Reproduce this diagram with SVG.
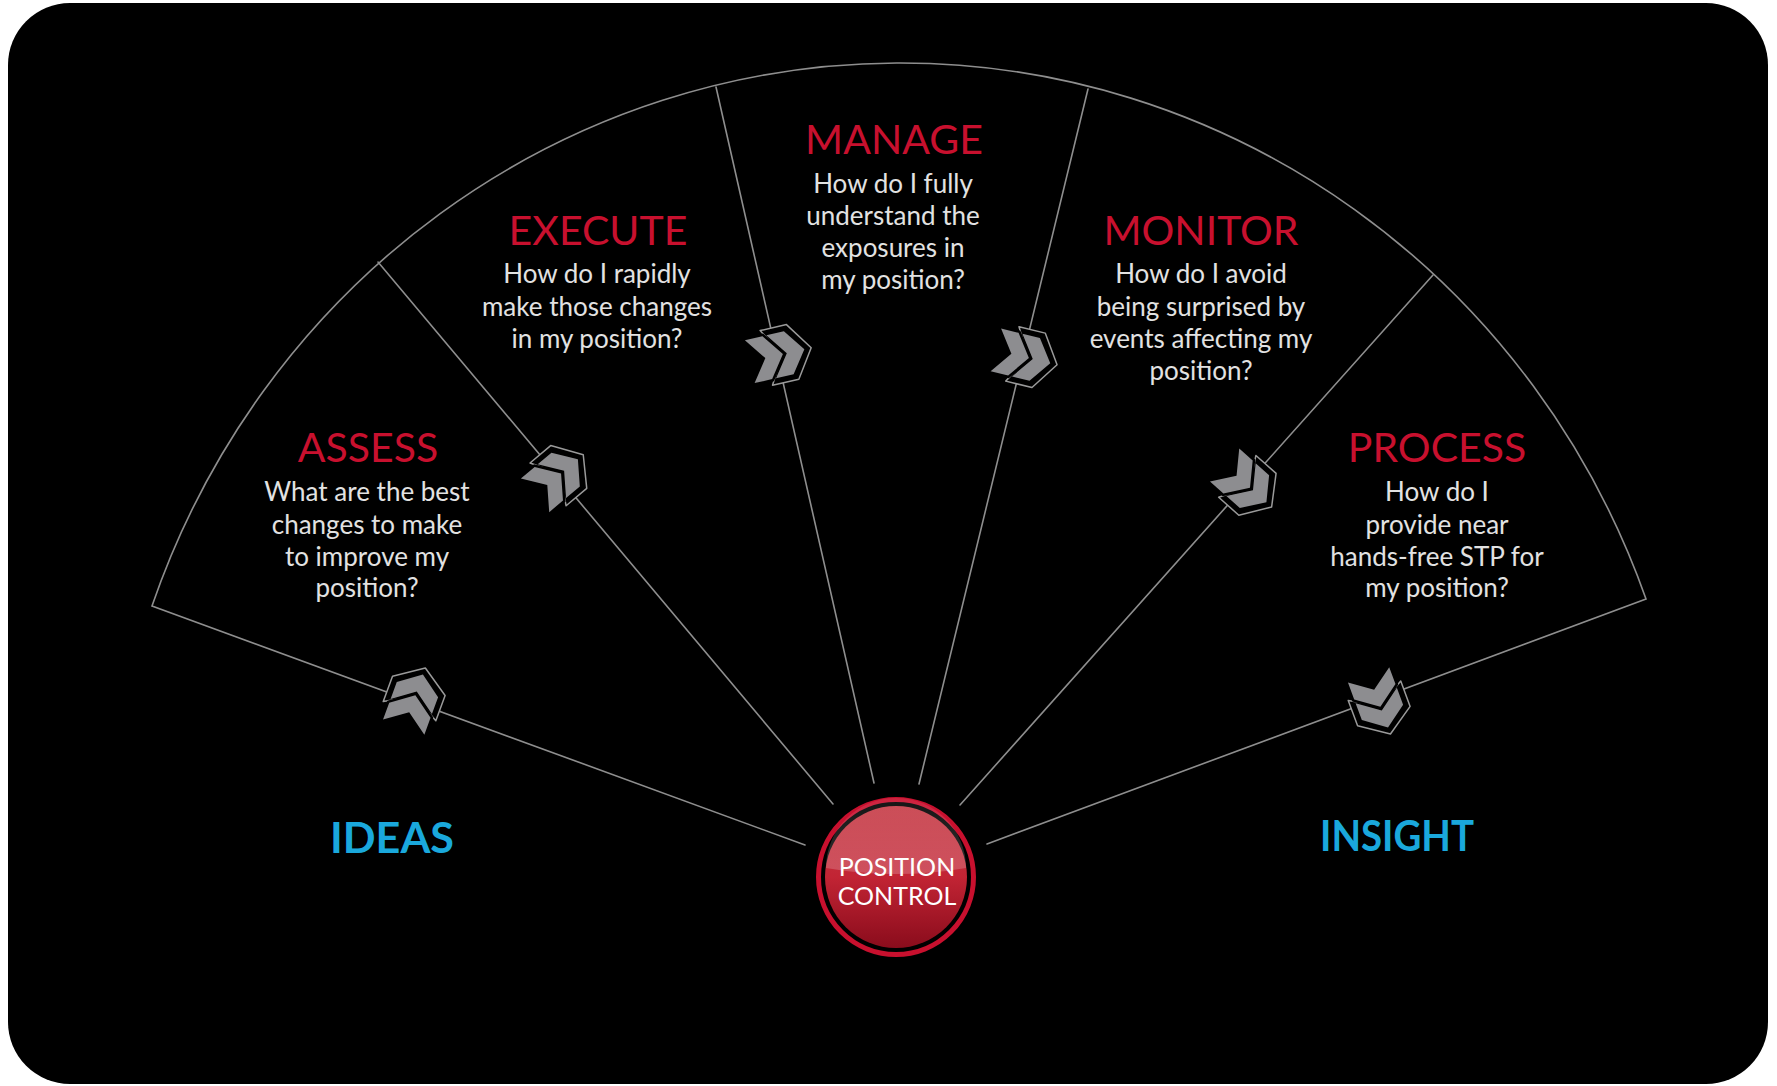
<svg xmlns="http://www.w3.org/2000/svg" width="1777" height="1086" viewBox="0 0 1777 1086">
<style>
.spoke{stroke:#8e8e8e;stroke-width:1.6;fill:none;stroke-linecap:round}
.title{font-family:Lato,"Open Sans",sans-serif;font-size:41px;fill:#c8102e;text-anchor:middle}
.body{font-family:Lato,"Open Sans",sans-serif;font-size:26px;fill:#e2e2e2;text-anchor:middle}
.side{font-family:Lato,"Open Sans",sans-serif;font-size:42px;font-weight:bold;fill:#1aa8dc;text-anchor:middle}
.pc{font-family:Lato,"Open Sans",sans-serif;font-size:25px;fill:#ffffff;text-anchor:middle}
</style>
<defs>
<linearGradient id="ball" x1="0" y1="0" x2="0" y2="1">
<stop offset="0" stop-color="#c63c47"/>
<stop offset="0.5" stop-color="#c22434"/>
<stop offset="1" stop-color="#8a0c1c"/>
</linearGradient>
<linearGradient id="gloss" x1="0" y1="0" x2="0" y2="1">
<stop offset="0" stop-color="#ffffff" stop-opacity="0.08"/>
<stop offset="1" stop-color="#ffffff" stop-opacity="0.2"/>
</linearGradient>
<g id="chev">
<polygon points="-13,-28 14,-28 33,0 14,28 -13,28 3,0" fill="#000" stroke="#9a9a9a" stroke-width="1.5" stroke-linejoin="round"/>
<polygon points="-8,-22 10,-22 26,0 10,22 -8,22 8,0" fill="#8d8d90"/>
<polygon points="-30,-22 -12,-22 4,0 -12,22 -30,22 -14,0" fill="#8d8d90" stroke="#000" stroke-width="5" paint-order="stroke"/>
</g>
</defs>
<rect x="0" y="0" width="1777" height="1086" fill="#ffffff"/>
<rect x="8" y="3" width="1760" height="1081" rx="62" ry="62" fill="#000000"/>
<g id="connectors">
<path class="spoke" d="M805,845 L152,606 A793 812 0 0 1 1646,599 L987,844"/>
<line class="spoke" x1="378" y1="262" x2="833" y2="804"/>
<line class="spoke" x1="716" y1="87" x2="874" y2="783"/>
<line class="spoke" x1="1088" y1="89" x2="919" y2="784"/>
<line class="spoke" x1="1433" y1="275" x2="960" y2="805"/>
<use href="#chev" transform="translate(414,699) rotate(-69.9)"/>
<use href="#chev" transform="translate(558,476) rotate(-40.1)"/>
<use href="#chev" transform="translate(779,355) rotate(-12.8)"/>
<use href="#chev" transform="translate(1025,357) rotate(13.7)"/>
<use href="#chev" transform="translate(1247,485) rotate(41.7)"/>
<use href="#chev" transform="translate(1379,703) rotate(69.7)"/>
</g>
<g id="assess">
<text class="title" x="368" y="462">ASSESS</text>
<text class="body" x="367" y="501">What are the best</text>
<text class="body" x="367" y="534">changes to make</text>
<text class="body" x="367" y="566">to improve my</text>
<text class="body" x="367" y="597">position?</text>
</g>
<g id="execute">
<text class="title" x="598" y="245">EXECUTE</text>
<text class="body" x="597" y="283">How do I rapidly</text>
<text class="body" x="597" y="316">make those changes</text>
<text class="body" x="597" y="348">in my position?</text>
</g>
<g id="manage">
<text class="title" x="894" y="154">MANAGE</text>
<text class="body" x="893" y="193">How do I fully</text>
<text class="body" x="893" y="225">understand the</text>
<text class="body" x="893" y="257">exposures in</text>
<text class="body" x="893" y="289">my position?</text>
</g>
<g id="monitor">
<text class="title" x="1201" y="245">MONITOR</text>
<text class="body" x="1201" y="283">How do I avoid</text>
<text class="body" x="1201" y="316">being surprised by</text>
<text class="body" x="1201" y="348">events affecting my</text>
<text class="body" x="1201" y="380">position?</text>
</g>
<g id="process">
<text class="title" x="1437" y="462">PROCESS</text>
<text class="body" x="1437" y="501">How do I</text>
<text class="body" x="1437" y="534">provide near</text>
<text class="body" x="1437" y="566">hands-free STP for</text>
<text class="body" x="1437" y="597">my position?</text>
</g>
<g id="ideas">
<text class="side" x="392" y="853" textLength="124" lengthAdjust="spacingAndGlyphs">IDEAS</text>
</g>
<g id="insight">
<text class="side" x="1397" y="851" textLength="154" lengthAdjust="spacingAndGlyphs">INSIGHT</text>
</g>
<g id="position-control">
<circle cx="896" cy="877" r="77.5" fill="#000" stroke="#c8102e" stroke-width="5"/>
<circle cx="896" cy="877" r="71" fill="url(#ball)"/>
<path d="M826,868 A70,70 0 0 1 966,868 Q896,880 826,868 Z" fill="url(#gloss)"/>
<text class="pc" x="897" y="876">POSITION</text>
<text class="pc" x="897" y="905">CONTROL</text>
</g>
</svg>
